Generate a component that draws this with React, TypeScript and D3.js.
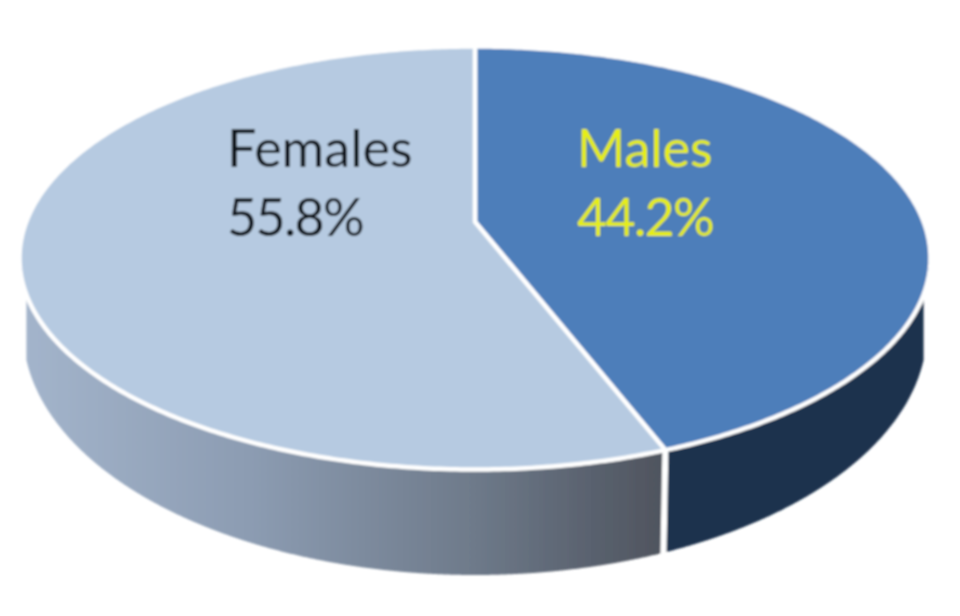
import * as d3 from 'd3'

const sliceNames = ['Males', 'Females']
const sliceShares = [44.2, 55.8]
const sliceFills = ['#4d7eba', '#b6cae1']
const labelFills = ['#e6ee14', '#11151c']
const labelX = [577, 227]
const wallStops = [
  { offset: 0, color: '#a3b4cb' },
  { offset: 0.35, color: '#8c9cb2' },
  { offset: 0.7, color: '#6e7a8a' },
  { offset: 0.88, color: '#5a626f' },
  { offset: 1, color: '#4f545e' }
]
const wallRightColor = '#1f334d'

const width = 960
const height = 616
const cx = 475
const top = { cy: 258, rx: 455.5, ry: 211.5 }
const base = { cy: 330, rx: 452, ry: 245 }
const wallStartY = 300
const tilt = 0.171 // how far the perspective pulls the pie centre up

const sx = d3.scaleLinear().domain([-1, 1]).range([cx - top.rx, cx + top.rx])
const sy = d3.scaleLinear().domain([-1, 1]).range([top.cy - top.ry, top.cy + top.ry])

// angle on the pie -> point on the tilted disc
const project = (angle: number, r = 1): [number, number] => {
  const u = r * Math.sin(angle)
  const v = -r * Math.cos(angle)
  const w = 1 - tilt * v
  return [sx((u * Math.sqrt(1 - tilt * tilt)) / w), sy((v - tilt) / w)]
}

const pieData = d3.pie<number>().sort(null).value(d => d)(sliceShares)
const line = d3.line()

const slicePath = (a0: number, a1: number) => {
  const angles = d3.range(a0, a1, 0.01).concat(a1)
  return line([project(0, 0), ...angles.map(a => project(a))]) + 'Z'
}

const topEdge = (x: number) => top.cy + top.ry * Math.sqrt(Math.max(0, 1 - ((x - cx) / top.rx) ** 2))
const baseEdge = (x: number) => base.cy + base.ry * Math.sqrt(Math.max(0, 1 - ((x - cx) / base.rx) ** 2))

const seamX = project(pieData[0].endAngle)[0]
const wallReach = base.rx * Math.sqrt(1 - ((wallStartY - base.cy) / base.ry) ** 2)

const wallArea = d3.area<number>().x(d => d).y0(topEdge).y1(baseEdge)
const wallPath = (x0: number, x1: number) => wallArea(d3.range(x0, x1, 1).concat(x1)) as string

const pct = d3.format('.1f')

export default function App() {
  const wallLeft = cx - wallReach
  const wallRight = cx + wallReach

  return (
    <svg
      width={width}
      height={height}
      style={{ position: 'absolute', left: 0, top: 0, display: 'block', background: '#fff' }}
    >
      <defs>
        <linearGradient id="wallShade" gradientUnits="userSpaceOnUse" x1={wallLeft} x2={seamX} y1={0} y2={0}>
          {wallStops.map(s => (
            <stop key={s.offset} offset={s.offset} stopColor={s.color} />
          ))}
        </linearGradient>
        <filter id="soft" x="-5%" y="-5%" width="110%" height="110%">
          <feGaussianBlur stdDeviation="0.8" />
        </filter>
      </defs>

      <g filter="url(#soft)">
        <path d={wallPath(wallLeft, seamX)} fill="url(#wallShade)" />
        <path d={wallPath(seamX, wallRight)} fill={wallRightColor} />
        <line
          x1={seamX}
          x2={seamX - 2}
          y1={topEdge(seamX)}
          y2={baseEdge(seamX) + 4}
          stroke="#fff"
          strokeWidth={6}
        />

        {pieData.map((d, i) => (
          <path
            key={sliceNames[i]}
            d={slicePath(d.startAngle, d.endAngle)}
            fill={sliceFills[i]}
            stroke="#fff"
            strokeWidth={4.5}
            strokeLinejoin="round"
          />
        ))}

        {sliceNames.map((name, i) => (
          <text
            key={name}
            fontFamily="Lato, sans-serif"
            fontSize={52}
            fill={labelFills[i]}
          >
            <tspan x={labelX[i]} y={167}>{name}</tspan>
            <tspan x={labelX[i]} y={236} letterSpacing={-1.7}>{pct(sliceShares[i])}%</tspan>
          </text>
        ))}
      </g>
    </svg>
  )
}
